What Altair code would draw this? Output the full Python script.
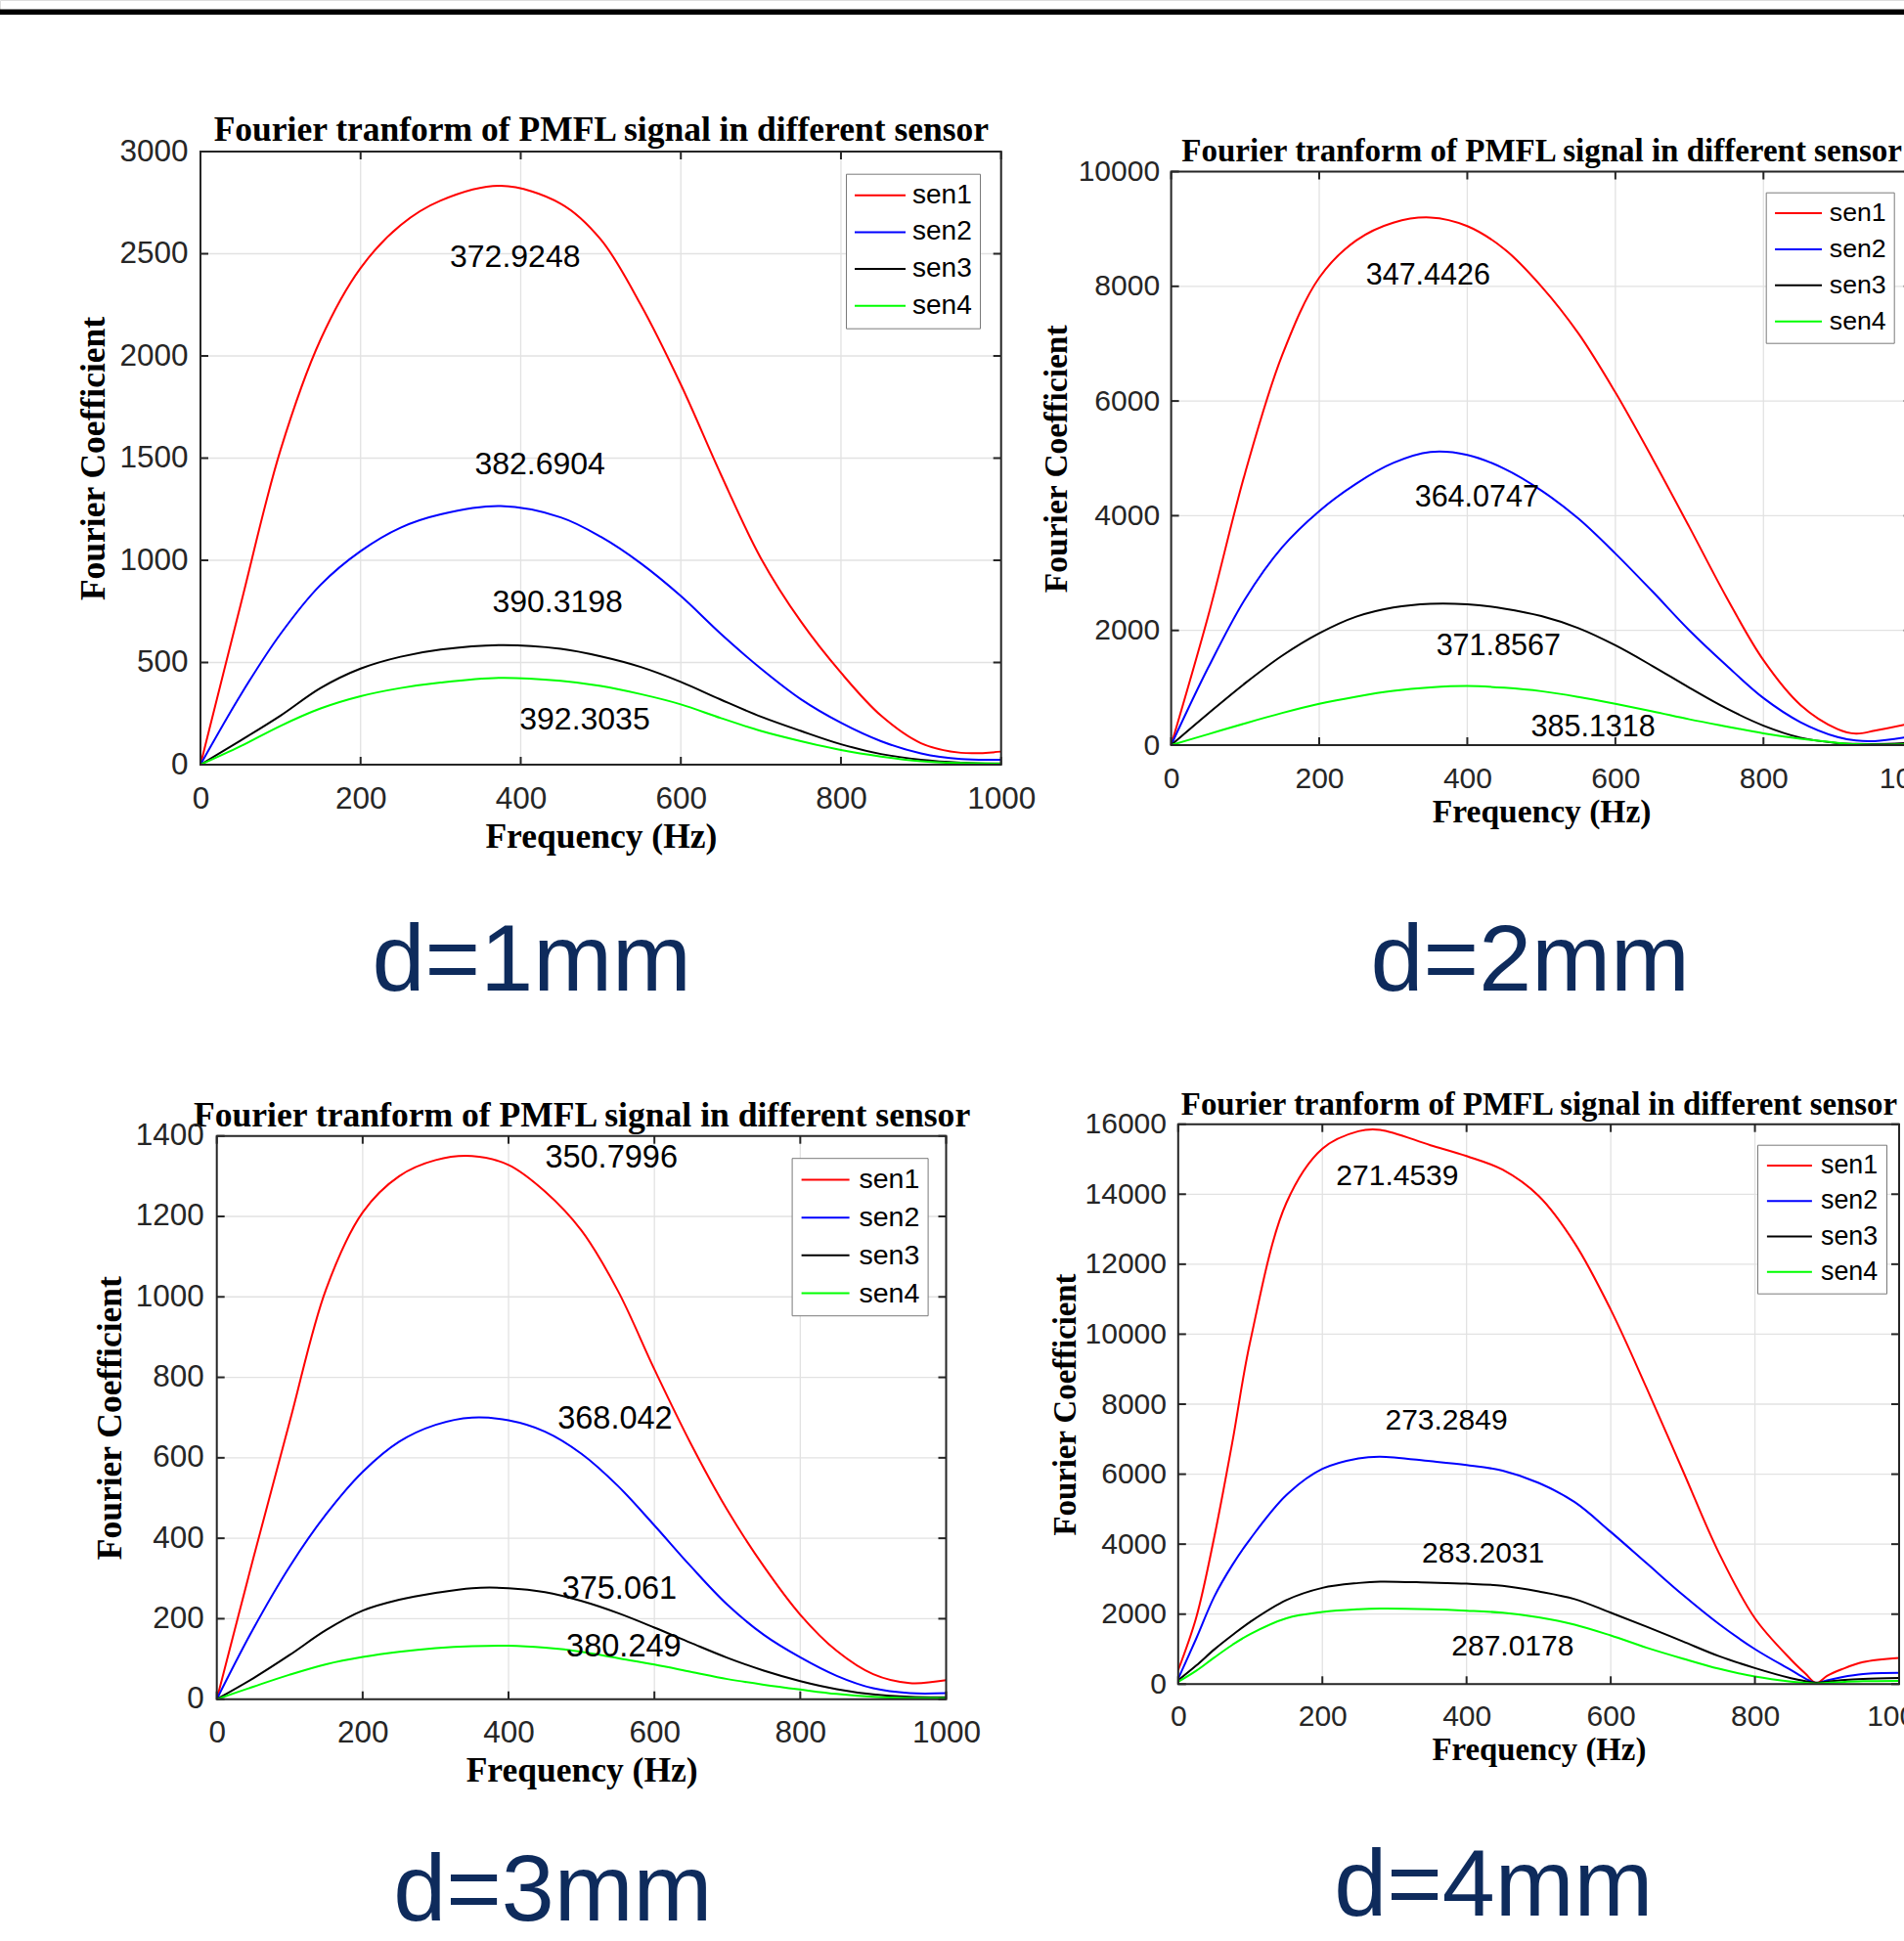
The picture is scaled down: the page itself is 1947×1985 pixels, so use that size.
import altair as alt
import pandas as pd

SENSORS = ["sen1", "sen2", "sen3", "sen4"]
COLORS = ["#ff0000", "#0000ff", "#000000", "#00ff00"]
X_TICKS = [0, 200, 400, 600, 800, 1000]
TITLE = "Fourier tranform of PMFL signal in different sensor"
X_TITLE = "Frequency (Hz)"
Y_TITLE = "Fourier Coefficient"
CASE_LABELS = ["d=1mm", "d=2mm", "d=3mm", "d=4mm"]

# ---------------- d = 1 mm ----------------
FREQ_1 = [0, 50, 100, 150, 200, 250, 300, 375, 450, 500, 550, 600, 650, 700, 750, 800, 850, 900, 950, 1000]
SEN1_1 = [0, 780, 1540, 2080, 2430, 2640, 2760, 2832, 2745, 2570, 2250, 1860, 1420, 1010, 700, 450, 240, 105, 58, 64]
SEN2_1 = [0, 340, 640, 880, 1045, 1160, 1225, 1265, 1210, 1115, 985, 825, 640, 470, 320, 205, 115, 55, 27, 24]
SEN3_1 = [0, 118, 240, 375, 470, 528, 563, 585, 567, 530, 478, 405, 318, 235, 165, 100, 52, 24, 10, 6]
SEN4_1 = [0, 90, 190, 275, 335, 375, 402, 425, 410, 385, 345, 295, 228, 165, 115, 72, 40, 17, 8, 5]
PEAK_X_1 = [393, 424, 446, 480]
PEAK_Y_1 = [2485, 1467, 794, 218]
PEAK_TXT_1 = ["372.9248", "382.6904", "390.3198", "392.3035"]
Y_TICKS_1 = [0, 500, 1000, 1500, 2000, 2500, 3000]

# ---------------- d = 2 mm ----------------
FREQ_2 = [0, 50, 100, 150, 200, 250, 300, 350, 400, 450, 500, 550, 600, 650, 700, 750, 800, 850, 900, 925, 950, 1000]
SEN1_2 = [0, 2250, 4750, 6800, 8150, 8800, 9110, 9200, 9050, 8650, 8000, 7180, 6150, 5000, 3800, 2580, 1480, 700, 280, 200, 250, 380]
SEN2_2 = [0, 1350, 2550, 3450, 4080, 4560, 4920, 5110, 5060, 4820, 4440, 3950, 3340, 2680, 2000, 1390, 820, 400, 140, 80, 70, 150]
SEN3_2 = [0, 550, 1080, 1560, 1950, 2240, 2400, 2465, 2455, 2380, 2250, 2040, 1740, 1380, 1000, 640, 340, 130, 35, 20, 18, 40]
SEN4_2 = [0, 190, 380, 560, 720, 845, 945, 1005, 1030, 1000, 940, 840, 720, 590, 450, 325, 205, 110, 40, 15, 10, 15]
PEAK_X_2 = [347, 413, 442, 570]
PEAK_Y_2 = [8181, 4315, 1726, 313]
PEAK_TXT_2 = ["347.4426", "364.0747", "371.8567", "385.1318"]
Y_TICKS_2 = [0, 2000, 4000, 6000, 8000, 10000]

# ---------------- d = 3 mm ----------------
FREQ_3 = [0, 50, 100, 150, 200, 250, 300, 350, 400, 450, 500, 550, 600, 650, 700, 750, 800, 850, 900, 950, 1000]
SEN1_3 = [0, 350, 690, 1020, 1210, 1300, 1340, 1350, 1328, 1262, 1165, 1015, 820, 635, 470, 330, 210, 120, 62, 40, 47]
SEN2_3 = [0, 175, 330, 460, 565, 640, 682, 700, 693, 665, 610, 530, 432, 330, 235, 160, 104, 58, 27, 15, 15]
SEN3_3 = [0, 52, 110, 172, 220, 247, 264, 276, 276, 266, 244, 214, 178, 140, 103, 71, 45, 25, 12, 6, 5]
SEN4_3 = [0, 31, 61, 87, 105, 118, 127, 132, 133, 128, 118, 102, 86, 68, 50, 36, 24, 13, 6, 3, 3]
PEAK_X_3 = [541, 546, 552, 558]
PEAK_Y_3 = [1345, 697, 274, 131]
PEAK_TXT_3 = ["350.7996", "368.042", "375.061", "380.249"]
Y_TICKS_3 = [0, 200, 400, 600, 800, 1000, 1200, 1400]

# ---------------- d = 4 mm ----------------
FREQ_4 = [0, 25, 50, 75, 100, 150, 200, 250, 280, 350, 400, 450, 500, 550, 600, 650, 700, 750, 800, 850, 870, 885, 900, 920, 950, 1000]
SEN1_4 = [400, 1900, 4200, 6900, 9800, 13750, 15300, 15800, 15840, 15400, 15090, 14700, 13950, 12600, 10700, 8450, 6100, 3750, 1880, 700, 300, 30, 235, 420, 630, 750]
SEN2_4 = [150, 1300, 2500, 3400, 4150, 5400, 6150, 6450, 6500, 6370, 6260, 6100, 5750, 5200, 4350, 3450, 2550, 1720, 1000, 400, 160, 25, 110, 200, 290, 320]
SEN3_4 = [110, 530, 990, 1400, 1780, 2400, 2750, 2890, 2930, 2900, 2870, 2810, 2650, 2430, 2040, 1640, 1220, 800, 460, 170, 85, 40, 70, 110, 150, 175]
SEN4_4 = [65, 380, 760, 1120, 1430, 1880, 2060, 2140, 2160, 2140, 2100, 2040, 1910, 1700, 1390, 1040, 730, 440, 215, 70, 35, 15, 35, 60, 85, 95]
PEAK_X_4 = [304, 372, 423, 464]
PEAK_Y_4 = [14498, 7538, 3722, 1063]
PEAK_TXT_4 = ["271.4539", "273.2849", "283.2031", "287.0178"]
Y_TICKS_4 = [0, 2000, 4000, 6000, 8000, 10000, 12000, 14000, 16000]

W, H = 1947, 1985
SANS = "Liberation Sans"
SERIF = "Liberation Serif"
AXC = "#262626"
GRID = "#e2e2e2"
NAVY = "#0e2b5c"
TL = 8  # inward tick length (px)

# pixel frame of each panel and its text styling
G1 = dict(x0=205, x1=1023.7, yt=155, yb=782, lab=31.5, ttl=35.5, axt=35.5, ann=32, leg=28,
          legx=865, legy=177.7, legr=13, legrp=9.7, lego=32, xlp=19, ylp=13, xty=84,
          ytx=-98.3, tty=-11.7, dx=543.7, dy=1012.7)
G2 = dict(x0=1197.6, x1=1954.7, yt=175.5, yb=762, lab=30, ttl=33, axt=33.5, ann=30.5, leg=26.7,
          legx=1805.7, legy=196.7, legr=12, legrp=8.9, lego=30.4, xlp=19, ylp=12, xty=78.7,
          ytx=-107.6, tty=-10.7, dx=1564.7, dy=1012.7)
G3 = dict(x0=221.7, x1=967.5, yt=1161.7, yb=1737.7, lab=31.5, ttl=35.6, axt=35.5, ann=32.5, leg=28.5,
          legx=809.6, legy=1184.2, legr=12.25, legrp=9.7, lego=32.4, xlp=19.1, ylp=13.4, xty=83.6,
          ytx=-98.4, tty=-10.1, dx=565.3, dy=1964)
G4 = dict(x0=1204.8, x1=1942, yt=1149.7, yb=1722.3, lab=30, ttl=32.8, axt=32.8, ann=30, leg=26.8,
          legx=1797, legy=1170.7, legr=11.5, legrp=8.2, lego=30.2, xlp=18.6, ylp=12.3, xty=77.2,
          ytx=-105.2, tty=-10.4, dx=1527.3, dy=1958.6)


def panel(freq, series, px, py, ptxt, y_ticks, case_label, g):
    x0, x1, yt, yb = g["x0"], g["x1"], g["yt"], g["yb"]
    ymax = y_ticks[-1]
    xs = alt.Scale(domain=[0, 1000], range=[x0, x1], nice=False, zero=False)
    ys = alt.Scale(domain=[0, ymax], range=[yb, yt], nice=False, zero=False)

    rows = []
    for name, vals in zip(SENSORS, series):
        for f, v in zip(freq, vals):
            rows.append({"f": f, "v": v, "s": name})
    df = pd.DataFrame(rows)

    common_lab = dict(grid=False, domain=False, ticks=False, tickSize=0, labelFont=SANS,
                      labelFontSize=g["lab"], labelColor=AXC, format="d",
                      titleFont=SERIF, titleFontWeight="bold", titleColor="black",
                      titleBaseline="alphabetic", titleAlign="center")
    x_axis = alt.Axis(orient="bottom", offset=yb - H, values=X_TICKS, labelFlush=False,
                      labelPadding=g["xlp"], title=X_TITLE, titleFontSize=g["axt"],
                      titleX=(x0 + x1) / 2, titleY=g["xty"], **common_lab)
    y_axis = alt.Axis(orient="left", offset=-x0, values=y_ticks, labelPadding=g["ylp"],
                      title=Y_TITLE, titleFontSize=g["axt"], titleX=g["ytx"],
                      titleY=(yt + yb) / 2, titleAngle=270, **common_lab)
    top_axis = alt.Axis(orient="top", offset=-yt, labels=False, ticks=False, domain=False,
                        grid=False, title=TITLE, titleFont=SERIF, titleFontWeight="bold",
                        titleFontSize=g["ttl"], titleColor="black", titleX=(x0 + x1) / 2,
                        titleY=g["tty"], titleBaseline="alphabetic", titleAlign="center")
    r = g["legr"]
    leg = alt.Legend(orient="none", legendX=g["legx"], legendY=g["legy"], title=None,
                     labelFont=SANS, labelFontSize=g["leg"], labelColor="black",
                     symbolType="M-1,0H3", symbolSize=(2 * r) ** 2, symbolStrokeWidth=2,
                     labelOffset=g["lego"], rowPadding=g["legrp"], padding=8,
                     strokeColor="#7a7a7a", fillColor="white", cornerRadius=0)

    gx = pd.DataFrame({"t": X_TICKS, "lo": 0, "hi": ymax})
    gy = pd.DataFrame({"t": y_ticks, "lo": 0, "hi": 1000})
    frame_df = pd.DataFrame({"a": [0], "b": [1000], "c": [0], "d": [ymax]})

    grid_x = alt.Chart(gx).mark_rule(color=GRID, strokeWidth=1.3).encode(
        x=alt.X("t:Q", scale=xs, axis=None), y=alt.Y("lo:Q", scale=ys, axis=None), y2="hi:Q")
    grid_y = alt.Chart(gy).mark_rule(color=GRID, strokeWidth=1.3).encode(
        y=alt.Y("t:Q", scale=ys, axis=None), x=alt.X("lo:Q", scale=xs, axis=None), x2="hi:Q")
    lines = alt.Chart(df).mark_line(strokeWidth=2, interpolate="catmull-rom").encode(
        x=alt.X("f:Q", scale=xs, axis=x_axis),
        y=alt.Y("v:Q", scale=ys, axis=y_axis),
        color=alt.Color("s:N", scale=alt.Scale(domain=SENSORS, range=COLORS), legend=leg),
    )
    ann = alt.Chart(pd.DataFrame({"x": px, "y": py, "t": ptxt})).mark_text(
        font=SANS, fontSize=g["ann"], color="black", align="center", baseline="middle"
    ).encode(x=alt.X("x:Q", scale=xs, axis=None), y=alt.Y("y:Q", scale=ys, axis=None), text="t:N")

    xt = pd.DataFrame({"t": X_TICKS})
    yt_df = pd.DataFrame({"t": y_ticks})
    tick_b = alt.Chart(xt).mark_rule(color=AXC, strokeWidth=2).encode(
        x=alt.X("t:Q", scale=xs, axis=None), y=alt.value(yb), y2=alt.value(yb - TL))
    tick_t = alt.Chart(xt).mark_rule(color=AXC, strokeWidth=2).encode(
        x=alt.X("t:Q", scale=xs, axis=top_axis), y=alt.value(yt), y2=alt.value(yt + TL))
    tick_l = alt.Chart(yt_df).mark_rule(color=AXC, strokeWidth=2).encode(
        y=alt.Y("t:Q", scale=ys, axis=None), x=alt.value(x0), x2=alt.value(x0 + TL))
    tick_r = alt.Chart(yt_df).mark_rule(color=AXC, strokeWidth=2).encode(
        y=alt.Y("t:Q", scale=ys, axis=None), x=alt.value(x1 - TL), x2=alt.value(x1))
    frame = alt.Chart(frame_df).mark_rect(filled=False, color=AXC, strokeWidth=2).encode(
        x=alt.X("a:Q", scale=xs, axis=None), x2="b:Q",
        y=alt.Y("c:Q", scale=ys, axis=None), y2="d:Q")
    dl = alt.Chart(pd.DataFrame({"t": [case_label]})).mark_text(
        font=SANS, fontSize=97, color=NAVY, align="center", baseline="alphabetic"
    ).encode(x=alt.value(g["dx"]), y=alt.value(g["dy"]), text="t:N")
    return [grid_x, grid_y, lines, ann, tick_b, tick_t, tick_l, tick_r, frame, dl]


one = pd.DataFrame({"k": [0]})
band = alt.Chart(one).mark_rect(color="black").encode(
    x=alt.value(0), x2=alt.value(W), y=alt.value(9.5), y2=alt.value(15))
# plain white page margin strip on the far left
edge = alt.Chart(one).mark_rect(color="white").encode(
    x=alt.value(0), x2=alt.value(4), y=alt.value(15), y2=alt.value(H))

layers = [band]
layers += panel(FREQ_1, [SEN1_1, SEN2_1, SEN3_1, SEN4_1], PEAK_X_1, PEAK_Y_1, PEAK_TXT_1,
                Y_TICKS_1, CASE_LABELS[0], G1)
layers += panel(FREQ_2, [SEN1_2, SEN2_2, SEN3_2, SEN4_2], PEAK_X_2, PEAK_Y_2, PEAK_TXT_2,
                Y_TICKS_2, CASE_LABELS[1], G2)
layers += panel(FREQ_3, [SEN1_3, SEN2_3, SEN3_3, SEN4_3], PEAK_X_3, PEAK_Y_3, PEAK_TXT_3,
                Y_TICKS_3, CASE_LABELS[2], G3)
layers += panel(FREQ_4, [SEN1_4, SEN2_4, SEN3_4, SEN4_4], PEAK_X_4, PEAK_Y_4, PEAK_TXT_4,
                Y_TICKS_4, CASE_LABELS[3], G4)
layers.append(edge)

chart = alt.layer(*layers).resolve_scale(
    x="independent", y="independent", color="independent"
).properties(
    width=W, height=H, padding=0, autosize=alt.AutoSizeParams(type="none")
).configure_view(
    stroke="transparent", strokeWidth=0
).configure_axis(
    domain=False, ticks=False, grid=False
).configure(background="white")

chart.save("out.html", embed_options={"renderer": "svg", "actions": False})
